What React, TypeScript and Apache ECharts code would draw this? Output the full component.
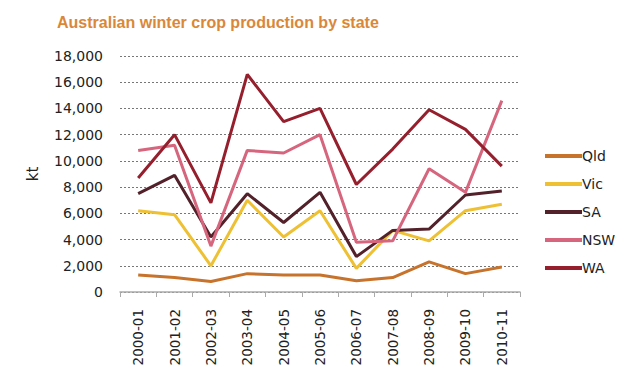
import React, { useEffect, useRef } from "react";
import * as echarts from "echarts";

const categories = ["2000-01","2001-02","2002-03","2003-04","2004-05","2005-06","2006-07","2007-08","2008-09","2009-10","2010-11"];
const qld = [1300, 1100, 800, 1400, 1300, 1300, 850, 1100, 2300, 1400, 1900];
const vic = [6200, 5900, 2000, 7000, 4200, 6200, 1800, 4700, 3900, 6200, 6700];
const sa = [7500, 8900, 4200, 7500, 5300, 7600, 2700, 4700, 4800, 7400, 7700];
const nsw = [10800, 11200, 3500, 10800, 10600, 12000, 3800, 3900, 9400, 7600, 14600];
const wa = [8700, 12000, 6800, 16600, 13000, 14000, 8200, 10900, 13900, 12400, 9600];
const yTicks = [0, 2000, 4000, 6000, 8000, 10000, 12000, 14000, 16000, 18000];

const seriesDefs = [
  { name: "Qld", data: qld, color: "#C8732C" },
  { name: "Vic", data: vic, color: "#EEC034" },
  { name: "SA", data: sa, color: "#52212A" },
  { name: "NSW", data: nsw, color: "#D6667E" },
  { name: "WA", data: wa, color: "#961F2D" },
];

export default function App() {
  const ref = useRef<HTMLDivElement>(null);
  useEffect(() => {
    if (!ref.current) return;
    const chart = echarts.init(ref.current, null, { renderer: "svg" });
    const font = "DejaVu Sans, sans-serif";
    chart.setOption({
      animation: false,
      backgroundColor: "#ffffff",
      title: {
        text: "Australian winter crop production by state",
        left: 52,
        top: 9,
        textStyle: { color: "#DA8838", fontSize: 16, fontWeight: "bold", fontFamily: "Liberation Sans, Arial, sans-serif" },
      },
      grid: { left: 120, right: 123, top: 56, bottom: 92 },
      legend: {
        orient: "vertical",
        left: 540,
        top: 144,
        itemWidth: 37,
        itemHeight: 4,
        itemGap: 14,
        icon: "rect",
        textStyle: { fontSize: 14, color: "#222", fontFamily: font, padding: [0, 0, 0, -5] },
        data: seriesDefs.map((s) => s.name),
      },
      xAxis: {
        type: "category",
        data: categories,
        boundaryGap: true,
        axisLine: { lineStyle: { color: "#aaaaaa", width: 1.5 } },
        axisTick: { show: true, length: 5, lineStyle: { color: "#aaaaaa" } },
        axisLabel: { rotate: 90, fontSize: 13.5, color: "#222", fontFamily: font, margin: 17, interval: 0 },
      },
      yAxis: {
        type: "value",
        min: 0,
        max: 18000,
        interval: 2000,
        name: "kt",
        nameLocation: "middle",
        nameGap: 80,
        nameRotate: 90,
        nameTextStyle: { fontSize: 15, color: "#222", fontFamily: font },
        axisLine: { show: false },
        axisTick: { show: false },
        axisLabel: {
          fontSize: 14,
          color: "#222",
          fontFamily: font,
          margin: 17,
          formatter: (v: number) => (yTicks.includes(v) ? v.toLocaleString("en-US") : ""),
        },
        splitLine: { lineStyle: { color: "#777777", type: [2, 2], width: 1 } },
      },
      series: seriesDefs.map((s) => ({
        name: s.name,
        type: "line",
        data: s.data,
        symbol: "none",
        lineStyle: { color: s.color, width: 3 },
        itemStyle: { color: s.color },
      })),
    });
    return () => chart.dispose();
  }, []);
  return <div ref={ref} style={{ position: "absolute", left: 0, top: 0, width: 643, height: 384 }} />;
}
